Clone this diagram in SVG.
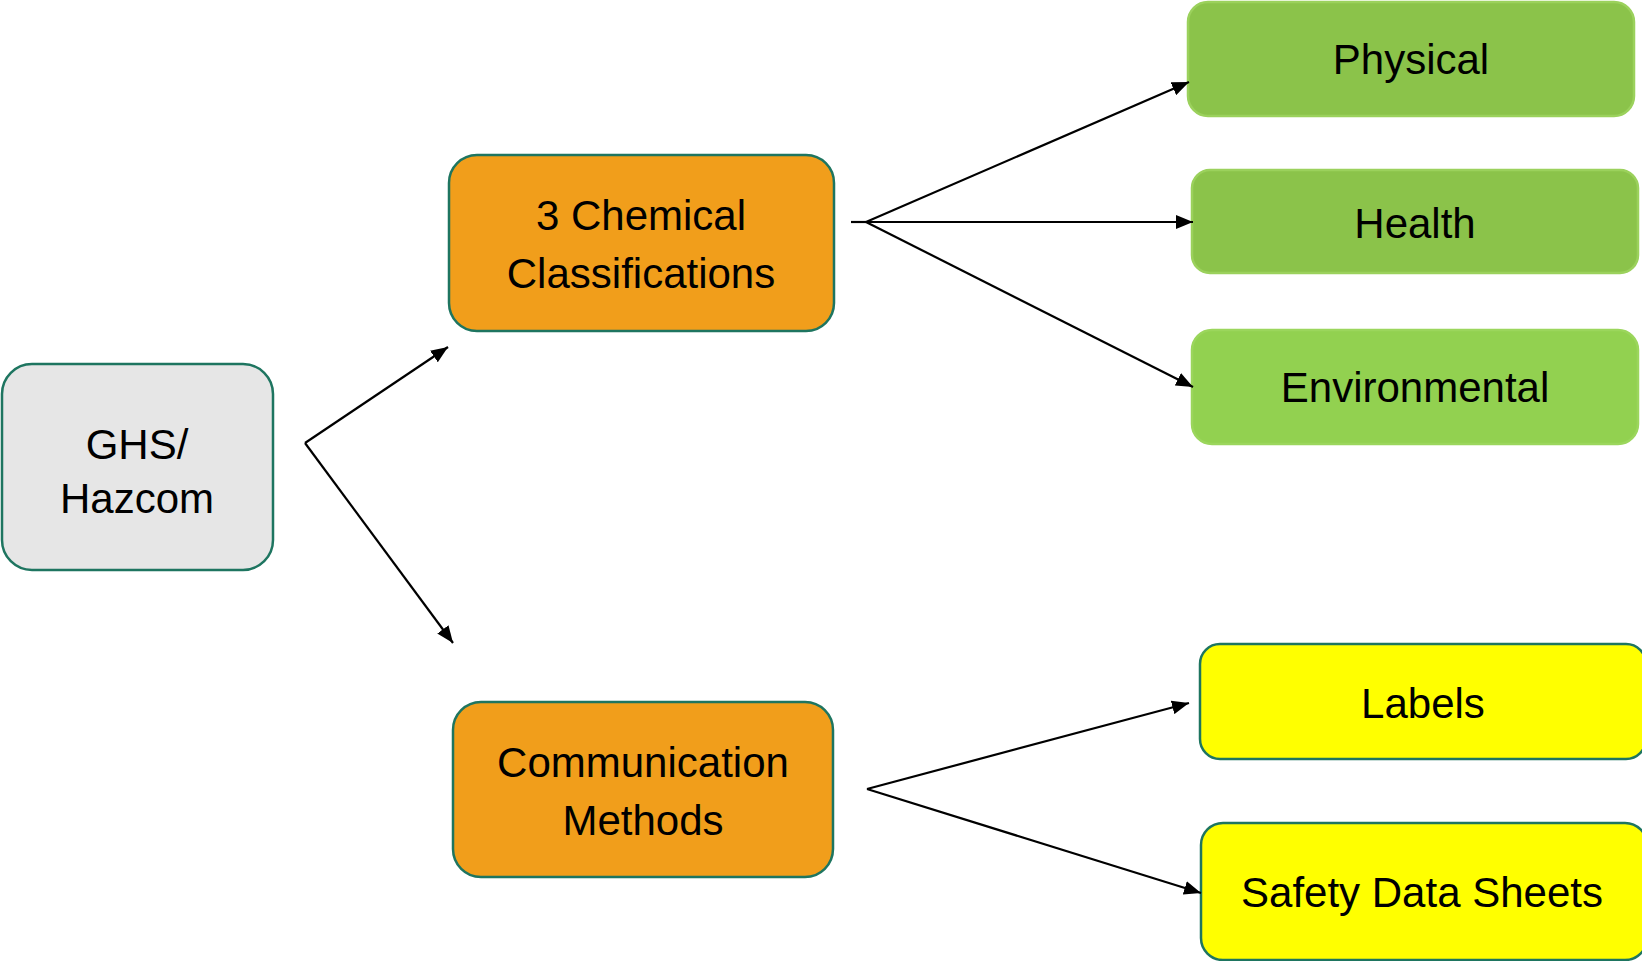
<svg xmlns="http://www.w3.org/2000/svg" width="1642" height="961" viewBox="0 0 1642 961">
<style>
.t{font-family:"Liberation Sans",Arial,sans-serif;font-size:42px;fill:#000;text-anchor:middle}
.c{fill:none;stroke:#000;stroke-width:2.2}
.org{fill:#F19E1B;stroke:#1E7560;stroke-width:2.5}
.yel{fill:#FFFF00;stroke:#1E7560;stroke-width:2.5}
.grn{fill:#8BC34A;stroke:#9BD15C;stroke-width:2.5}
.grn2{fill:#92D150;stroke:#9BD65C;stroke-width:2.5}
</style>
<defs>
<marker id="ah" markerUnits="userSpaceOnUse" markerWidth="18" markerHeight="14" refX="17" refY="7" orient="auto">
<path d="M0,0 L17,7 L0,14 z" fill="#000"/>
</marker>
</defs>
<rect width="1642" height="961" fill="#fff"/>
<g id="ghs">
<rect x="2" y="364" width="271" height="206" rx="30" fill="#E6E6E6" stroke="#1E7560" stroke-width="2.5"/>
<text class="t" x="137" y="459">GHS/</text>
<text class="t" x="137" y="513">Hazcom</text>
</g>
<g id="chem">
<rect class="org" x="449" y="155" width="385" height="176" rx="28"/>
<text class="t" x="641" y="230">3 Chemical</text>
<text class="t" x="641" y="288">Classifications</text>
</g>
<g id="comm">
<rect class="org" x="453" y="702" width="380" height="175" rx="28"/>
<text class="t" x="643" y="777">Communication</text>
<text class="t" x="643" y="835">Methods</text>
</g>
<g id="physical">
<rect class="grn" x="1188" y="2" width="446" height="114" rx="20"/>
<text class="t" x="1411" y="74">Physical</text>
</g>
<g id="health">
<rect class="grn" x="1192" y="170" width="446" height="103" rx="18"/>
<text class="t" x="1415" y="238">Health</text>
</g>
<g id="environmental">
<rect class="grn2" x="1192" y="330" width="446" height="114" rx="20"/>
<text class="t" x="1415" y="402">Environmental</text>
</g>
<g id="labels">
<rect class="yel" x="1200" y="644" width="446" height="115" rx="20"/>
<text class="t" x="1423" y="718">Labels</text>
</g>
<g id="sds">
<rect class="yel" x="1201" y="823" width="446" height="137" rx="22"/>
<text class="t" x="1422" y="907">Safety Data Sheets</text>
</g>
<g id="connectors">
<line class="c" x1="305" y1="443" x2="448" y2="347" marker-end="url(#ah)"/>
<line class="c" x1="305" y1="443" x2="453" y2="643" marker-end="url(#ah)"/>
<line class="c" x1="851" y1="222" x2="866" y2="222"/>
<line class="c" x1="866" y1="222" x2="1189" y2="82" marker-end="url(#ah)"/>
<line class="c" x1="866" y1="222" x2="1193" y2="222" marker-end="url(#ah)"/>
<line class="c" x1="866" y1="222" x2="1193" y2="387" marker-end="url(#ah)"/>
<line class="c" x1="867" y1="789" x2="1189" y2="703" marker-end="url(#ah)"/>
<line class="c" x1="867" y1="789" x2="1201" y2="893" marker-end="url(#ah)"/>
</g>
</svg>
